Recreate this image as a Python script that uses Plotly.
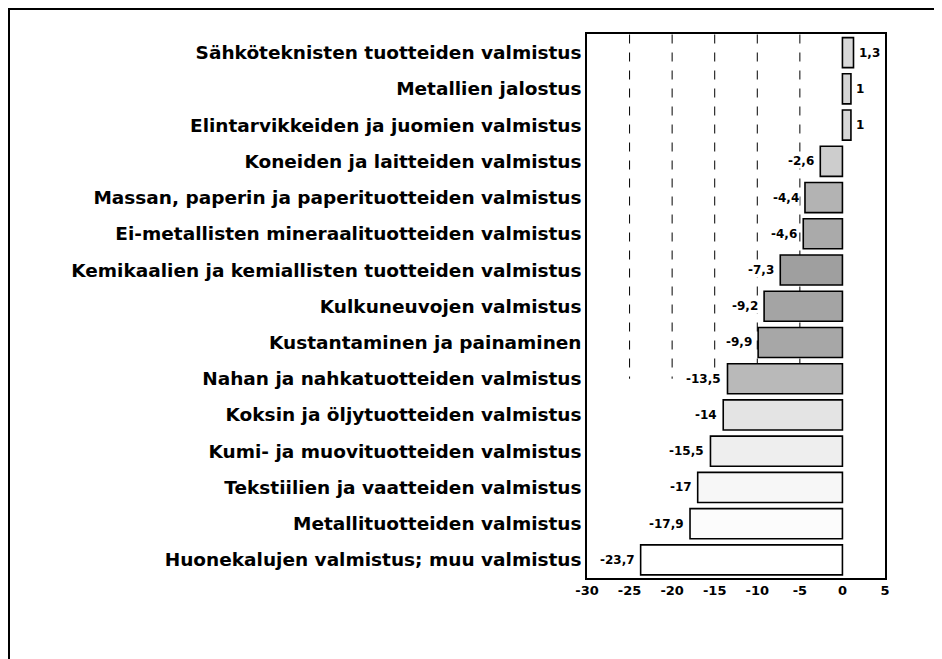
import plotly.graph_objects as go

categories = [
    "Sähköteknisten tuotteiden valmistus",
    "Metallien jalostus",
    "Elintarvikkeiden ja juomien valmistus",
    "Koneiden ja laitteiden valmistus",
    "Massan, paperin ja paperituotteiden valmistus",
    "Ei-metallisten mineraalituotteiden valmistus",
    "Kemikaalien ja kemiallisten tuotteiden valmistus",
    "Kulkuneuvojen valmistus",
    "Kustantaminen ja painaminen",
    "Nahan ja nahkatuotteiden valmistus",
    "Koksin ja öljytuotteiden valmistus",
    "Kumi- ja muovituotteiden valmistus",
    "Tekstiilien ja vaatteiden valmistus",
    "Metallituotteiden valmistus",
    "Huonekalujen valmistus; muu valmistus",
]
values = [1.3, 1, 1, -2.6, -4.4, -4.6, -7.3, -9.2, -9.9, -13.5, -14, -15.5, -17, -17.9, -23.7]
value_labels = ["1,3", "1", "1", "-2,6", "-4,4", "-4,6", "-7,3", "-9,2", "-9,9",
                "-13,5", "-14", "-15,5", "-17", "-17,9", "-23,7"]
bar_colors = ["#d9d9d9", "#d6d6d6", "#d8d8d8", "#cdcdcd", "#b3b3b3", "#aaaaaa",
              "#9f9f9f", "#a4a4a4", "#a7a7a7", "#b9b9b9", "#e4e4e4", "#eeeeee",
              "#f7f7f7", "#fcfcfc", "#ffffff"]
x_ticks = [-30, -25, -20, -15, -10, -5, 0, 5]
grid_values = [-25, -20, -15, -10, -5]
grid_end_category = "Nahan ja nahkatuotteiden valmistus"

FONT = "DejaVu Sans, Verdana, sans-serif"
W, H = 934, 651
L, R, T, B = 579, 57, 26, 81
pw, ph = W - L - R, H - T - B

fig = go.Figure()
fig.add_trace(go.Bar(
    x=values, y=categories, orientation="h",
    marker=dict(color=bar_colors, line=dict(color="black", width=1.6)),
    width=0.83, hoverinfo="skip",
))

shapes = []
end_idx = categories.index(grid_end_category)
for g in grid_values:
    shapes.append(dict(type="line", xref="x", yref="y", x0=g, x1=g, y0=-0.5, y1=end_idx,
                       line=dict(color="black", width=1, dash="dash"), layer="below"))
# outer frame
shapes.append(dict(type="rect", xref="paper", yref="paper",
                   x0=(1 - L) / pw, x1=2, y0=-1, y1=(H - B - 1) / ph,
                   line=dict(color="black", width=2), layer="below"))

annotations = []
for v, lab, c in zip(values, value_labels, categories):
    annotations.append(dict(
        x=v, y=c, xref="x", yref="y", text="<b>" + lab + "</b>", showarrow=False,
        xanchor="left" if v > 0 else "right", xshift=4 if v > 0 else -5,
        font=dict(family=FONT, size=12, color="black"),
        bgcolor="white", borderpad=0,
    ))

fig.update_layout(
    width=W, height=H,
    margin=dict(l=L, r=R, t=T, b=B),
    plot_bgcolor="white", paper_bgcolor="white",
    showlegend=False, shapes=shapes, annotations=annotations,
    font=dict(family=FONT, color="black"),
)
fig.update_xaxes(
    range=[-30, 5], tickvals=x_ticks, ticktext=["<b>%d</b>" % t for t in x_ticks],
    showgrid=False, zeroline=False, showline=True, linecolor="black", linewidth=1.5,
    mirror=True, ticks="", tickfont=dict(size=13),
)
fig.update_yaxes(
    autorange="reversed", categoryorder="array", categoryarray=categories,
    tickvals=categories, ticktext=["<b>" + c + "</b>" for c in categories],
    showgrid=False, showline=True, linecolor="black", linewidth=1.5, mirror=True,
    ticks="", ticklabelstandoff=0, tickfont=dict(size=18.5),
)
fig.write_html("out.html")
